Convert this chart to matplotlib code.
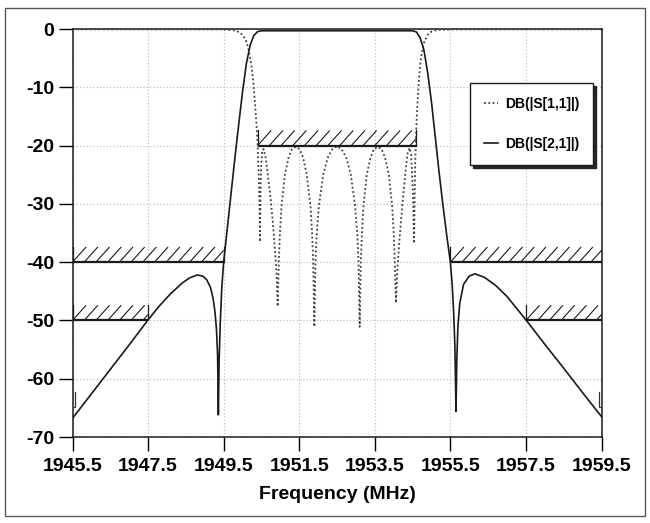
import matplotlib.pyplot as plt
from matplotlib.patches import Rectangle
from matplotlib.collections import LineCollection
import numpy as np

# S21 (transmission)
s21_freq = [1945.5, 1946.0, 1946.5, 1947.0, 1947.5, 1947.8, 1948.1, 1948.4, 1948.6, 1948.8,
            1948.95, 1949.05, 1949.15, 1949.22, 1949.27, 1949.31, 1949.34, 1949.36, 1949.38, 1949.41,
            1949.45, 1949.5, 1949.6, 1949.7, 1949.8, 1949.9, 1950.0, 1950.1, 1950.2, 1950.3,
            1950.4, 1950.5, 1951.5, 1952.5, 1953.5, 1954.5, 1954.6, 1954.7, 1954.8, 1954.9,
            1955.0, 1955.1, 1955.2, 1955.3, 1955.4, 1955.5, 1955.55, 1955.59, 1955.62, 1955.65,
            1955.67, 1955.7, 1955.75, 1955.85, 1956.0, 1956.15, 1956.4, 1956.7, 1957.0, 1957.5,
            1958.0, 1958.5, 1959.0, 1959.5]
s21_db = [-66.8, -62.6, -58.4, -54.2, -49.9, -47.5, -45.4, -43.6, -42.7, -42.2,
          -42.4, -43.0, -44.3, -46.2, -48.5, -51.5, -56.0, -66.2, -57.0, -50.5,
          -44.5, -40.0, -34.0, -28.0, -22.0, -16.3, -10.8, -6.0, -2.8, -1.1,
          -0.45, -0.3, -0.3, -0.3, -0.3, -0.3, -0.5, -1.5, -3.6, -7.5,
          -12.5, -18.5, -24.5, -30.0, -35.2, -40.0, -44.0, -49.0, -54.5, -65.6,
          -57.0, -51.0, -47.0, -43.8, -42.4, -42.0, -42.6, -44.0, -45.9, -49.9,
          -54.1, -58.2, -62.4, -66.5]

# S11 (reflection)
s11_freq = [1945.5, 1949.5, 1949.75, 1949.9, 1950.0, 1950.08, 1950.14, 1950.2, 1950.25, 1950.29,
            1950.33, 1950.37, 1950.4, 1950.43, 1950.45, 1950.46, 1950.475, 1950.49, 1950.52, 1950.56,
            1950.61, 1950.67, 1950.74, 1950.8, 1950.86, 1950.9, 1950.93, 1950.96, 1950.99, 1951.03,
            1951.12, 1951.22, 1951.31, 1951.41, 1951.51, 1951.6, 1951.7, 1951.8, 1951.84, 1951.87,
            1951.9, 1951.93, 1951.96, 1952.02, 1952.14, 1952.26, 1952.38, 1952.5, 1952.62, 1952.74,
            1952.86, 1952.98, 1953.04, 1953.07, 1953.1, 1953.13, 1953.16, 1953.2, 1953.29, 1953.39,
            1953.48, 1953.58, 1953.68, 1953.77, 1953.87, 1953.96, 1954.0, 1954.03, 1954.06, 1954.1,
            1954.15, 1954.2, 1954.26, 1954.32, 1954.37, 1954.42, 1954.46, 1954.49, 1954.52, 1954.54,
            1954.555, 1954.57, 1954.6, 1954.63, 1954.67, 1954.72, 1954.8, 1954.9, 1955.0, 1955.15,
            1955.5, 1959.5]
s11_db = [-0.05, -0.08, -0.2, -0.5, -1.0, -1.8, -3.0, -4.8, -7.0, -9.5,
          -12.8, -16.5, -20.0, -25.5, -30.5, -36.5, -29.0, -24.0, -20.8, -20.6,
          -22.0, -25.0, -29.0, -33.0, -38.0, -42.0, -47.6, -40.0, -35.0, -30.5,
          -25.0, -22.0, -20.6, -20.2, -20.6, -22.0, -25.0, -30.5, -35.0, -40.0,
          -51.1, -40.0, -35.5, -30.4, -24.8, -22.0, -20.6, -20.1, -20.6, -22.0,
          -24.8, -30.4, -35.5, -40.0, -51.1, -40.0, -35.0, -30.4, -24.9, -22.0,
          -20.6, -20.2, -20.6, -22.0, -24.9, -30.4, -35.0, -40.0, -47.0, -41.0,
          -36.5, -32.5, -28.0, -24.0, -21.3, -20.4, -21.5, -25.0, -30.5, -36.8,
          -29.0, -23.0, -17.0, -12.5, -8.5, -5.0, -2.4, -1.0, -0.45, -0.15,
          -0.08, -0.05]

# spec masks: start, stop, level (dB)
mask_start = [1950.4, 1945.5, 1955.5, 1945.5, 1957.5]
mask_stop = [1954.6, 1949.5, 1959.5, 1947.5, 1959.5]
mask_level = [-20, -40, -40, -50, -50]

# small end-of-trace markers
marker_freq = [1945.5, 1959.5]
marker_db = [-62.2, -62.2]

xticks = [1945.5, 1947.5, 1949.5, 1951.5, 1953.5, 1955.5, 1957.5, 1959.5]
yticks = [0, -10, -20, -30, -40, -50, -60, -70]

plt.rcParams['font.family'] = ['Liberation Sans', 'DejaVu Sans']

fig = plt.figure(figsize=(6.5, 5.23), dpi=100)
ax = fig.add_axes([72.5 / 650, 86 / 523, 529 / 650, 408 / 523])

ax.grid(True, linestyle=(0, (1, 2)), color='0.72', linewidth=0.8)
ax.set_axisbelow(True)

l11, = ax.plot(s11_freq, s11_db, color='0.25', linestyle=(0, (1, 1.4)), linewidth=1.3,
               label='DB(|S[1,1]|)', zorder=3)
l21, = ax.plot(s21_freq, s21_db, color='0.1', linewidth=1.2, label='DB(|S[2,1]|)', zorder=4)

# masks with hand-style hatching
hatch_h = 2.6
hatch_step = 0.31
hatch_dx = 0.36
for fs, fe, lv in zip(mask_start, mask_stop, mask_level):
    ax.plot([fs, fe], [lv, lv], color='0.1', linewidth=1.6, zorder=5, solid_capstyle='butt')
    ax.plot([fs, fs], [lv, lv + hatch_h], color='0.1', linewidth=0.9, zorder=5)
    ax.plot([fe, fe], [lv, lv + hatch_h], color='0.1', linewidth=0.9, zorder=5)
    segs = []
    for x0 in np.arange(fs, fe - 0.02, hatch_step):
        x1 = min(x0 + hatch_dx, fe)
        segs.append([(x0, lv), (x1, lv + hatch_h * (x1 - x0) / hatch_dx)])
    ax.add_collection(LineCollection(segs, colors='0.1', linewidths=0.8, zorder=5))

for mf, md in zip(marker_freq, marker_db):
    off = 0.07 if mf < 1950 else -0.07
    ax.plot([mf + off, mf + off, mf + off * 0.4], [md, md - 2.6, md - 2.6],
            color='0.2', linewidth=0.9, zorder=5, clip_on=False)

ax.set_xlim(1945.5, 1959.5)
ax.set_ylim(-70, 0)
ax.set_xticks(xticks)
ax.set_yticks(yticks)
ax.set_xticklabels([f'{v:.1f}' for v in xticks])
ax.set_yticklabels([str(v) for v in yticks])
ax.tick_params(direction='out', length=10, width=1.0, labelsize=14)
ax.tick_params(axis='x', pad=5)
ax.tick_params(axis='y', pad=3)
for lab in ax.get_xticklabels() + ax.get_yticklabels():
    lab.set_fontweight('bold')
for sp in ax.spines.values():
    sp.set_linewidth(1.1)
    sp.set_color('0.1')

ax.set_xlabel('Frequency (MHz)', fontsize=14, fontweight='bold', labelpad=8)

leg = ax.legend(handles=[l11, l21], loc='upper left',
                bbox_to_anchor=(470 / 650, 1 - 83 / 523), bbox_transform=fig.transFigure,
                borderaxespad=0, handlelength=1.0, handletextpad=0.5, borderpad=1.0,
                labelspacing=1.9, frameon=True, fancybox=False, edgecolor='0.1',
                shadow={'color': '0.15', 'alpha': 1.0},
                prop={'family': ['Liberation Sans Narrow', 'Liberation Sans'], 'weight': 'bold', 'size': 10})
leg.get_frame().set_linewidth(1.0)

# outer frame of the scanned figure
fig.patches.append(Rectangle((5 / 650, 7 / 523), 640 / 650, 508 / 523, transform=fig.transFigure,
                             fill=False, edgecolor='0.35', linewidth=1.0))

fig.savefig('out.png', dpi=100)
